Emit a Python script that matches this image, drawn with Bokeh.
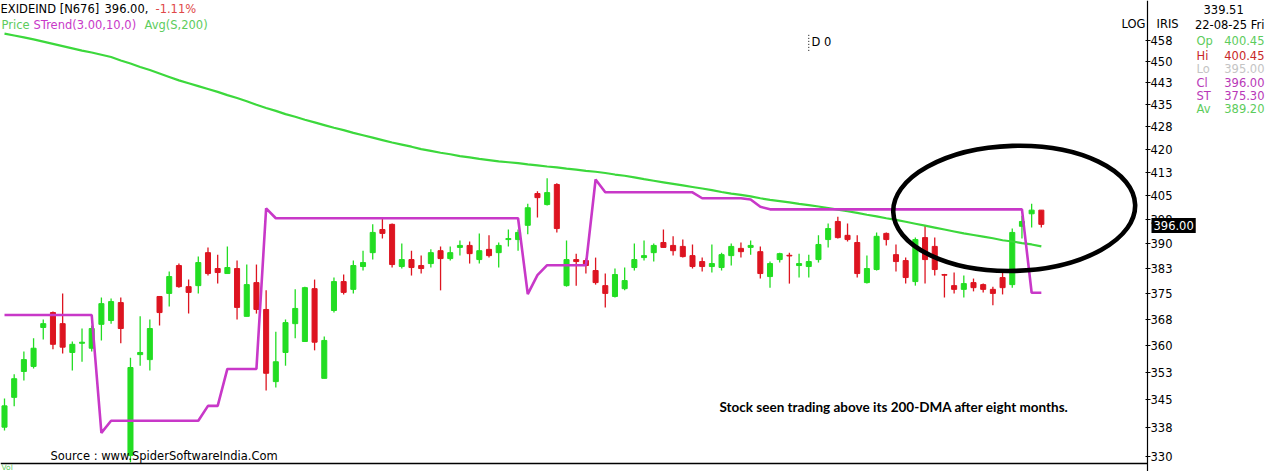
from bokeh.plotting import figure
from bokeh.models import Range1d, FixedTicker, Label, ColumnDataSource
from bokeh.embed import file_html
from bokeh.resources import INLINE

# ---------------- data ----------------
opens = [337.7, 345.7, 352.8, 354.2, 365.2, 369.5, 366.3, 358.1, 360.7, 359.3,
         366.1, 367.2, 372.4, 330.3, 357.5, 356.1, 374.2, 375.1, 383.4, 377.1,
         377.4, 387.3, 382.5, 381.0, 382.5, 368.4, 378.3, 370.4, 350.0, 358.1,
         366.3, 361.2, 376.5, 350.9, 370.1, 378.6, 376.3, 383.1, 387.3, 394.4,
         396.0, 383.1, 385.2, 383.4, 384.0, 387.9, 385.5, 388.9, 389.5, 385.2,
         388.3, 387.3, 391.3, 391.3, 395.7, 405.7, 402.2, 408.6, 377.4, 385.2,
         384.9, 381.9, 377.4, 374.2, 376.5, 382.8, 385.8, 387.3, 390.4, 389.5,
         389.2, 386.4, 384.6, 383.1, 382.8, 386.4, 388.6, 388.9, 387.6, 380.1,
         385.2, 386.5, 383.4, 383.1, 385.2, 391.3, 396.9, 392.6, 390.4, 378.3,
         382.2, 393.2, 386.7, 384.9, 378.6, 391.9, 389.2, 380.7, 377.4, 376.3,
         378.3, 377.7, 376.3, 379.8, 377.7, 395.4, 399.3, 400.45]
highs = [345.4, 352.0, 358.4, 362.1, 367.5, 369.8, 375.1, 361.2, 364.9, 365.8,
         373.9, 373.6, 373.9, 356.6, 368.4, 367.5, 374.2, 381.6, 384.0, 379.2,
         386.1, 388.9, 386.7, 389.2, 384.9, 383.7, 383.7, 376.0, 364.0, 367.5,
         376.3, 377.1, 379.2, 362.6, 379.8, 380.7, 384.9, 387.9, 396.0, 397.8,
         396.3, 390.1, 387.9, 386.4, 388.3, 389.2, 389.2, 391.0, 390.7, 393.2,
         392.6, 390.4, 394.4, 394.4, 402.5, 406.4, 410.6, 409.0, 391.0, 387.0,
         385.5, 385.8, 381.0, 382.5, 382.8, 390.1, 391.0, 390.1, 394.4, 392.3,
         391.3, 389.8, 385.8, 389.8, 387.3, 390.1, 390.4, 391.0, 389.2, 384.6,
         387.3, 387.3, 387.0, 386.7, 392.6, 396.3, 398.4, 396.3, 392.6, 386.4,
         393.5, 393.5, 389.8, 385.8, 391.9, 395.7, 391.9, 380.9, 381.3, 380.4,
         379.5, 378.0, 377.1, 382.2, 394.7, 398.7, 402.5, 400.45]
lows = [336.8, 343.3, 350.3, 353.6, 361.8, 359.0, 357.8, 353.1, 355.5, 358.4,
        361.5, 366.3, 360.7, 328.5, 354.4, 353.1, 365.8, 371.3, 376.8, 369.2,
        375.1, 380.4, 378.0, 381.0, 367.5, 368.4, 369.2, 347.6, 348.4, 354.4,
        362.1, 361.2, 358.7, 350.9, 369.5, 374.8, 375.1, 381.9, 385.2, 391.6,
        382.8, 382.5, 380.4, 381.0, 382.8, 376.0, 384.9, 386.4, 384.0, 384.0,
        385.8, 382.8, 389.2, 387.9, 392.9, 398.1, 401.9, 393.5, 377.1, 377.4,
        381.0, 377.7, 371.0, 373.9, 376.0, 381.9, 384.9, 384.6, 388.9, 386.4,
        385.8, 382.5, 381.6, 381.3, 381.9, 383.4, 385.8, 386.7, 379.5, 376.8,
        384.3, 378.0, 379.8, 379.8, 384.3, 388.9, 391.6, 390.7, 379.8, 378.0,
        381.9, 389.5, 381.6, 378.0, 377.4, 378.0, 380.4, 373.9, 375.1, 373.9,
        375.7, 375.4, 371.6, 374.8, 376.8, 391.6, 395.0, 395.00]
closes = [343.4, 350.8, 356.1, 359.3, 366.3, 360.4, 359.6, 360.4, 361.0, 364.9,
          372.1, 372.7, 364.9, 353.9, 358.1, 364.9, 369.5, 380.1, 377.1, 375.4,
          384.3, 381.0, 381.3, 382.8, 371.0, 377.7, 370.4, 352.3, 355.5, 366.6,
          370.7, 376.8, 361.0, 361.5, 378.6, 375.4, 383.4, 384.3, 393.5, 393.2,
          383.7, 385.2, 382.8, 382.5, 387.3, 385.5, 387.3, 389.5, 387.0, 387.9,
          386.4, 389.5, 391.6, 393.5, 401.2, 404.4, 406.0, 394.7, 385.2, 384.6,
          383.4, 378.3, 375.1, 380.7, 378.9, 385.2, 386.4, 389.5, 388.9, 387.9,
          386.1, 383.1, 383.1, 384.0, 386.7, 389.2, 387.6, 389.5, 381.0, 384.0,
          387.0, 386.3, 384.0, 384.6, 389.8, 394.7, 391.9, 391.3, 381.0, 382.5,
          392.3, 391.3, 384.6, 379.8, 391.3, 385.2, 382.2, 380.5, 376.3, 378.0,
          376.8, 376.3, 375.1, 376.8, 393.5, 396.9, 400.45, 396.00]
supertrend = [368.8, 368.8, 368.8, 368.8, 368.8, 368.8, 368.8, 368.8, 368.8, 368.8,
              336.2, 339.4, 339.4, 339.4, 339.4, 339.4, 339.4, 339.4, 339.4, 339.4,
              339.4, 343.4, 343.4, 353.5, 353.5, 353.5, 353.5, 401.0, 397.9, 397.9,
              397.9, 397.9, 397.9, 397.9, 397.9, 397.9, 397.9, 397.9, 397.9, 397.9,
              397.9, 397.9, 397.9, 397.9, 397.9, 397.9, 397.9, 397.9, 397.9, 397.9,
              397.9, 397.9, 397.9, 397.9, 374.9, 380.5, 383.5, 383.5, 383.5, 383.5,
              383.5, 410.2, 406.1, 406.1, 406.1, 406.1, 406.1, 406.1, 406.1, 406.1,
              406.1, 406.1, 404.2, 404.2, 404.2, 404.2, 404.2, 403.8, 401.5, 400.7,
              400.7, 400.7, 400.7, 400.7, 400.7, 400.7, 400.7, 400.7, 400.7, 400.7,
              400.7, 400.7, 400.7, 400.7, 400.7, 400.7, 400.7, 400.7, 400.7, 400.7,
              400.7, 400.7, 400.7, 400.7, 400.7, 400.7, 375.3, 375.3]
sma200 = [460.0, 459.3, 458.6, 457.9, 457.1, 456.3, 455.5, 454.7, 453.9, 453.2,
          452.4, 451.6, 450.4, 449.3, 448.1, 447.0, 445.8, 444.6, 443.4, 442.4,
          441.4, 440.4, 439.4, 438.3, 437.3, 436.2, 435.0, 433.9, 432.9, 431.8,
          430.9, 429.9, 429.0, 428.1, 427.2, 426.4, 425.5, 424.7, 423.9, 423.1,
          422.3, 421.6, 420.9, 420.1, 419.5, 418.9, 418.4, 417.8, 417.4, 416.9,
          416.5, 416.1, 415.8, 415.5, 415.1, 414.8, 414.4, 414.1, 413.7, 413.4,
          413.0, 412.7, 412.3, 411.8, 411.4, 410.9, 410.3, 409.8, 409.3, 408.8,
          408.3, 407.8, 407.3, 406.8, 406.2, 405.7, 405.3, 404.8, 404.2, 403.7,
          403.3, 402.9, 402.4, 402.0, 401.6, 401.1, 400.6, 400.1, 399.6, 399.0,
          398.5, 397.9, 397.4, 396.8, 396.2, 395.6, 395.0, 394.4, 393.8, 393.2,
          392.7, 392.2, 391.7, 391.1, 390.7, 390.2, 389.8, 389.2]
tick_values = [330, 337.5, 345, 352.5, 360, 367.5, 375, 382.5, 390, 397.5,
               405, 412.5, 420, 427.5, 435, 442.5, 450, 457.5]
tick_labels = ["330", "338", "345", "353", "360", "368", "375", "383", "390", "398",
               "405", "413", "420", "428", "435", "443", "450", "458"]
symbol = "EXIDEIND [N676]"
pct_change = "-1.11%"
cursor_value = "339.51"
date_label = "22-08-25 Fri"
dividend_index = 83
note = "Stock seen trading above its 200-DMA after eight months."
source_text = "Source : www.SpiderSoftwareIndia.Com"

# ---------------- layout / styles ----------------
W, H = 1266, 471
X0, X1 = -0.4128, 130.237          # candle index range across the full width
Y0, Y1 = 326.15, 472.10            # log price range across the full height
AXIS_AT = 117.96                   # price axis position (index units)
PANEL_FLOOR = 328.21               # price at the bottom rule of the price panel

UP = "#22dd22"
DOWN = "#dd1420"
ST_COL = "#c838c8"
SMA_COL = "#3cd83c"
TXT_GREEN = "#5ccc5c"
FONT = "DejaVu Sans"
FS = "11.5px"

idx = list(range(len(closes)))
colors = [UP if c >= o else DOWN for o, c in zip(opens, closes)]
src = ColumnDataSource(dict(
    x=idx, o=opens, h=highs, l=lows, c=closes,
    top=[max(o, c) for o, c in zip(opens, closes)],
    bot=[min(o, c) for o, c in zip(opens, closes)],
    col=colors, st=supertrend, sma=sma200))

p = figure(width=W, height=H, output_backend="svg", toolbar_location=None,
           x_range=Range1d(X0, X1), y_range=Range1d(Y0, Y1),
           y_axis_type="log", y_axis_location="right", x_axis_location=None,
           min_border_left=0, min_border_right=0, min_border_top=0, min_border_bottom=0)
p.grid.visible = False
p.outline_line_color = None
p.background_fill_color = "white"
p.border_fill_color = "white"

ax = p.yaxis[0]
ax.fixed_location = AXIS_AT
ax.ticker = FixedTicker(ticks=tick_values)
ax.major_label_overrides = {v: t for v, t in zip(tick_values, tick_labels)}
ax.minor_tick_line_color = None
ax.major_tick_in = 2
ax.major_tick_out = 3
ax.major_label_standoff = 0
ax.axis_line_color = "black"
ax.axis_line_width = 1.2
ax.major_tick_line_color = "black"
ax.major_label_text_font = FONT
ax.major_label_text_font_size = FS
ax.major_label_text_color = "black"

# candles
p.segment(x0="x", y0="l", x1="x", y1="h", color="col", line_width=1.3, source=src)
p.vbar(x="x", width=0.52, top="top", bottom="bot", fill_color="col", line_color="col",
       line_width=1, source=src)

# indicators
p.line("x", "sma", color=SMA_COL, line_width=2.2, source=src)
p.line("x", "st", color=ST_COL, line_width=2.6, source=src)

# highlight ellipse around the last candles
p.ellipse(x=[104.2], y=[401.0], width=[242], height=[125], width_units="screen",
          height_units="screen", angle=0.03, fill_color=None, line_color="black",
          line_width=4.6)

# dividend marker
p.segment(x0=[dividend_index], x1=[dividend_index], y0=[453.8], y1=[460.0],
          line_color="black", line_width=1, line_dash="1 2")

# bottom rule of the price panel (up to the price axis)
p.segment(x0=[X0], x1=[AXIS_AT], y0=[PANEL_FLOOR], y1=[PANEL_FLOOR],
          line_color="black", line_width=1.5)


def lab(text, x, y, color="black", size=FS, align="left", font=FONT, style="normal",
        bg=None, pad=0):
    # x, y are page pixels measured from the top-left corner
    kw = dict(x=x, y=H - y, x_units="screen", y_units="screen", text=text,
              text_color=color, text_font_size=size, text_align=align,
              text_baseline="middle", text_font=font, text_font_style=style)
    if bg is not None:
        kw.update(background_fill_color=bg, padding=pad)
    p.add_layout(Label(**kw))


# header
lab(symbol, 0, 8)
lab(f"{closes[-1]:.2f},", 104, 8)
lab(pct_change, 155, 8, color="#e04848")
lab("Price", 1, 24, color=TXT_GREEN)
lab("STrend(3.00,10,0)", 33, 24, color=ST_COL)
lab("Avg(S,200)", 144, 24, color=TXT_GREEN)

# top-right panel
lab("LOG", 1121, 23)
lab("IRIS", 1156, 23)
lab(cursor_value, 1203, 9)
lab(date_label, 1264, 24, align="right")
rows = [("Op", opens[-1], "#5ccc5c"), ("Hi", highs[-1], "#c82828"),
        ("Lo", lows[-1], "#c4c4c4"), ("Cl", closes[-1], "#b838b8"),
        ("ST", supertrend[-1], "#b838b8"), ("Av", sma200[-1], "#5ccc5c")]
row_y = [40, 55, 68, 82, 95, 108]
for (name, val, col), yy in zip(rows, row_y):
    lab(name, 1196, yy, color=col)
    lab(f"{val:.2f}", 1264, yy, color=col, align="right")

# last price box on axis
lab(f"{closes[-1]:.2f}", 1151, 225, color="white", bg="black", pad=dict(x=2, y=3))

# dividend text
lab("D 0", 811, 41)

# note, source, and the volume-pane title
lab(note, 719, 406, font="Lato", style="bold", size="13.5px")
lab(source_text, 50, 455)
lab("Vol", 1, 467, color=TXT_GREEN, size="7.5px")

open("out.html", "w").write(file_html(p, INLINE))
